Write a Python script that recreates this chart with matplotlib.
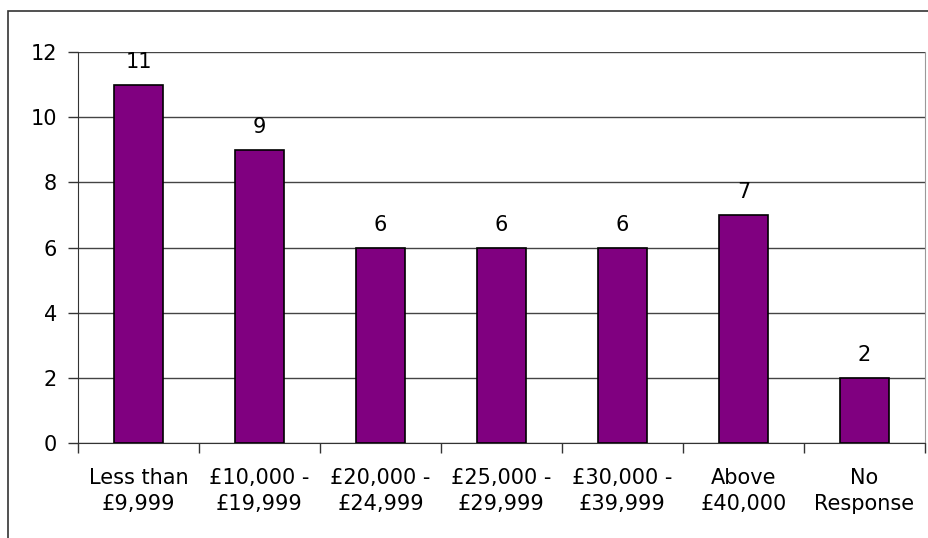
import matplotlib.pyplot as plt
from matplotlib.patches import Rectangle

categories = ['Less than\n£9,999', '£10,000 -\n£19,999', '£20,000 -\n£24,999',
              '£25,000 -\n£29,999', '£30,000 -\n£39,999', 'Above\n£40,000', 'No\nResponse']
counts = [11, 9, 6, 6, 6, 7, 2]

plt.rcParams['font.family'] = ['DejaVu Sans']
plt.rcParams['font.size'] = 15

fig = plt.figure(figsize=(9.29, 5.38), dpi=100)
ax = fig.add_axes([78 / 929, 1 - 443 / 538, 847 / 929, 391 / 538])

# outer chart border (runs off the bottom/right of the image)
fig.patches.append(Rectangle((8 / 929, -0.1), 1.0, 1 - 11 / 538 + 0.1,
                             transform=fig.transFigure, fill=False,
                             edgecolor='#333333', linewidth=1.2))

x = list(range(len(categories)))
bars = ax.bar(x, counts, width=0.41, color='#800080', edgecolor='black', linewidth=1.2, zorder=3)

for b, v in zip(bars, counts):
    ax.annotate(str(v), (b.get_x() + b.get_width() / 2, v), xytext=(0, 9),
                textcoords='offset points', ha='center', va='bottom', fontsize=15)

ax.set_xlim(-0.5, len(categories) - 0.5)
ax.set_ylim(0, 12)
ax.set_yticks(range(0, 13, 2))
ax.yaxis.grid(True, color='#444444', linewidth=1)
ax.set_axisbelow(True)

ax.set_xticks(x)
ax.set_xticklabels(categories, linespacing=1.4)
ax.set_xticks([i - 0.5 for i in range(len(categories) + 1)], minor=True)
ax.tick_params(axis='x', which='major', length=0, pad=18)
ax.tick_params(axis='x', which='minor', length=7, width=1, color='#333333')
ax.tick_params(axis='y', length=7, width=1, color='#333333', pad=8)

ax.spines['top'].set_visible(False)
ax.spines['right'].set_color('#999999')
ax.spines['left'].set_color('#333333')
ax.spines['bottom'].set_color('#333333')

fig.savefig('out.png', dpi=100)
